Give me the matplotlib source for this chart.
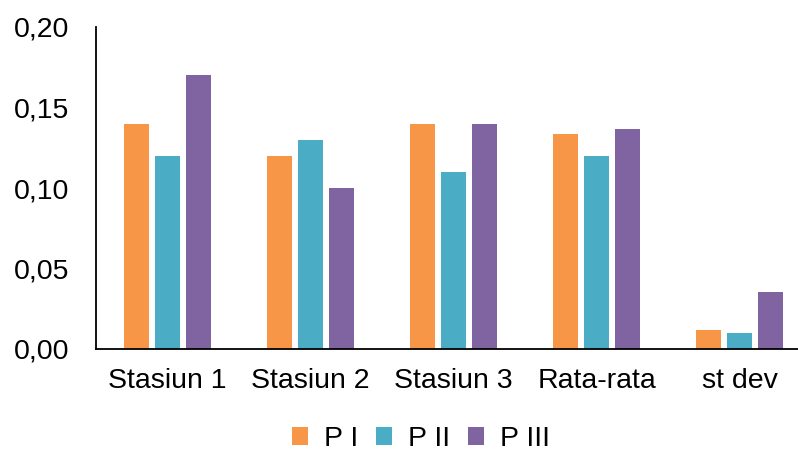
import matplotlib
matplotlib.use("Agg")
import matplotlib.pyplot as plt
import numpy as np

plt.rcParams['font.family'] = ['Liberation Sans', 'DejaVu Sans']

categories = ["Stasiun 1", "Stasiun 2", "Stasiun 3", "Rata-rata", "st dev"]
series_names = ["P I", "P II", "P III"]
p1 = [0.14, 0.12, 0.14, 0.1333, 0.0115]
p2 = [0.12, 0.13, 0.11, 0.12, 0.0100]
p3 = [0.17, 0.10, 0.14, 0.1367, 0.0351]
colors = ["#F79646", "#4BACC6", "#8064A2"]
yticks = [0.0, 0.05, 0.10, 0.15, 0.20]
ytick_labels = ["0,00", "0,05", "0,10", "0,15", "0,20"]

fs = 20.5
fig = plt.figure(figsize=(7.98, 4.54), dpi=100)
ax = fig.add_axes([96/798, 1 - 349/454, (798-96)/798, (349-27)/454])

x = np.arange(len(categories))
w = 0.175
off = 0.22
for i, (vals, name, c) in enumerate(zip([p1, p2, p3], series_names, colors)):
    ax.bar(x + (i - 1) * off, vals, width=w, color=c, label=name)

ax.set_xlim(-0.5, 4.409)
ax.set_ylim(0, 0.20)
ax.set_yticks(yticks)
ax.set_yticklabels(ytick_labels)
ax.set_xticks(x)
ax.set_xticklabels(categories)
ax.tick_params(axis='both', length=0, labelsize=fs, colors='black')
ax.tick_params(axis='x', pad=14)
ax.tick_params(axis='y', pad=19)
for s in ['top', 'right']:
    ax.spines[s].set_visible(False)
for s in ['left', 'bottom']:
    ax.spines[s].set_color('black')
    ax.spines[s].set_linewidth(1.3)

handles, labels = ax.get_legend_handles_labels()
fig.legend(handles, labels, loc='center', bbox_to_anchor=(421/798, 1 - 439/454),
           ncol=3, frameon=False, fontsize=fs, handlelength=0.55, handleheight=0.55,
           handletextpad=0.55, columnspacing=0.65, borderpad=0)

fig.savefig("out.png", dpi=100)
